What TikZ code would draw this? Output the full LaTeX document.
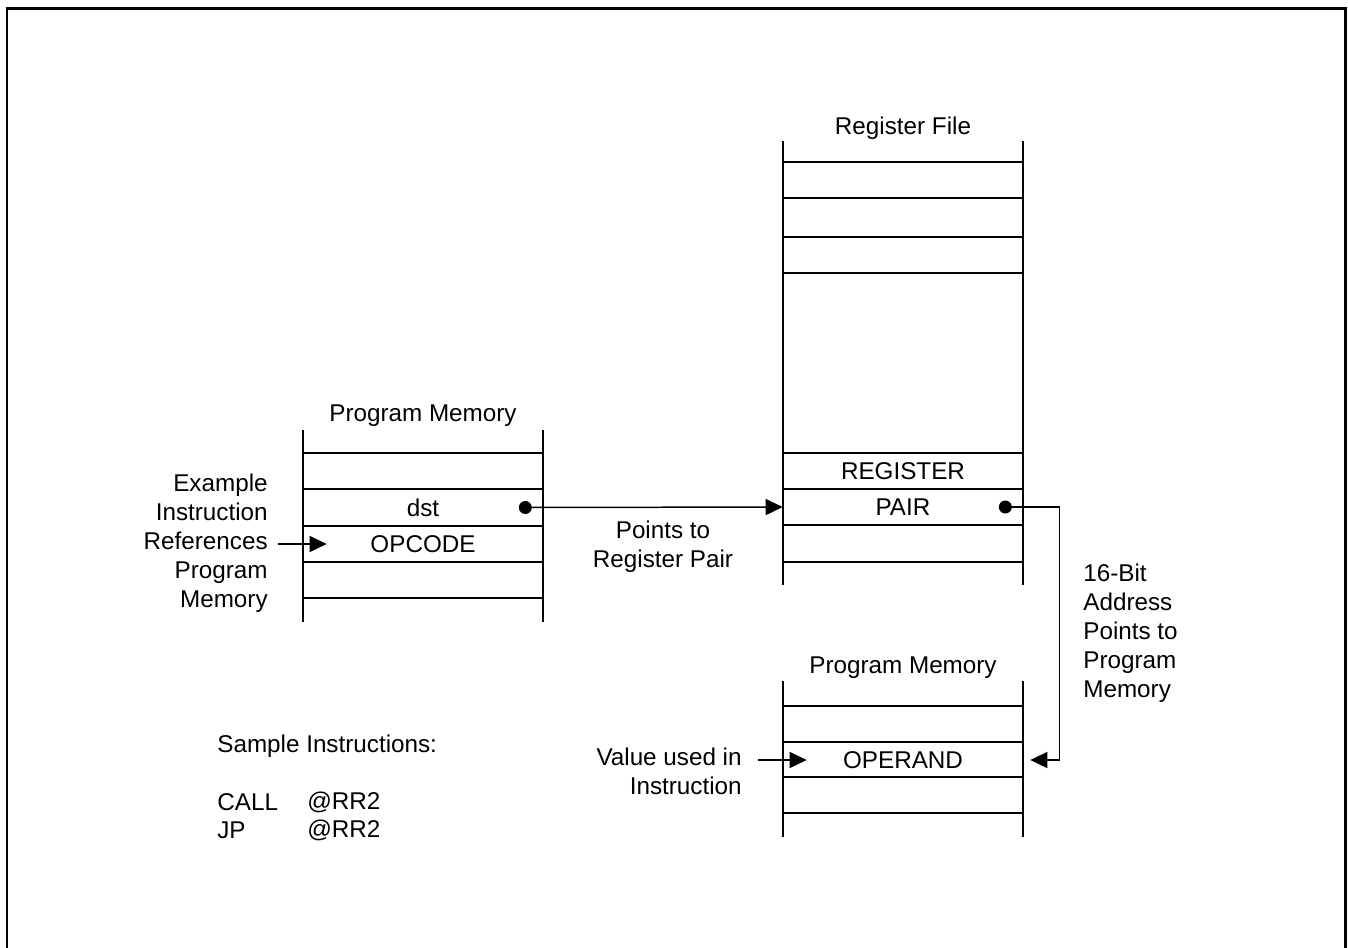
\documentclass[tikz,border=0pt]{standalone}
\usepackage{fontspec}
\setmainfont{Liberation Sans}
\usetikzlibrary{arrows.meta}

\begin{document}
\begin{tikzpicture}[x=0.02cm, y=-0.02cm,
    font=\fontsize{13.8}{16.5}\selectfont,
    mem/.style={line width=0.85pt},
    cell/.style={minimum width=4.8cm, minimum height=0.72cm, inner sep=0pt},
    arr/.style={line width=0.85pt, -{Triangle[length=0.34cm, width=0.32cm]}},
    dot/.style={circle, fill, inner sep=0pt, minimum size=0.26cm}]
  \useasboundingbox (0,0) rectangle (1348,947);
  % 外框
  \draw[line width=0.06cm] (7,950) -- (7,8) -- (1345,8) -- (1345,950);
  % 左边 Program Memory
  \node (pm1) at (423,416) {Program Memory};
  \draw[mem] (303,430) -- (303,622) (543,430) -- (543,622);
  \foreach \y in {453,489,526,562,598}
    \draw[mem] (303,\y) -- (543,\y);
  \node[cell] (dst) at (423,507.5) {dst};
  \node[cell] (opcode) at (423,544) {OPCODE};
  \node[dot] (dstdot) at ([xshift=-0.36cm]dst.east) {};
  % Register File
  \node (rf) at (903,128) {Register File};
  \draw[mem] (783,141) -- (783,585) (1023,141) -- (1023,585);
  \foreach \y in {162,198,237,273,453,489,525,562}
    \draw[mem] (783,\y) -- (1023,\y);
  \node[cell] (reg) at (903,471) {REGISTER};
  \node[cell] (pair) at (903,507) {PAIR};
  \node[dot] (pairdot) at ([xshift=-0.36cm]pair.east) {};
  % 下边 Program Memory
  \node (pm2) at (903,668) {Program Memory};
  \draw[mem] (783,681) -- (783,837) (1023,681) -- (1023,837);
  \foreach \y in {706,742,777,813}
    \draw[mem] (783,\y) -- (1023,\y);
  \node[cell] (opd) at (903,760) {OPERAND};
  % dst 指向寄存器对
  \draw[arr] (dstdot.center) -- (pair.west);
  \node[align=center] (pts) at (663,547) {Points to\\Register Pair};
  % 寄存器对指向程序存储器
  \draw[arr] (pairdot.center) -- ++(1.08cm,0) |- ([xshift=0.14cm]opd.east);
  \node[align=left, anchor=west, inner sep=0pt] (bit) at (1083,633) {16-Bit\\Address\\Points to\\Program\\Memory};
  % 左边说明
  \node[align=right, anchor=east, inner sep=0pt] (ex) at (268,543) {Example\\Instruction\\References\\Program\\Memory};
  \draw[arr] ([xshift=0.2cm]ex.east |- opcode.west) -- ([xshift=0.48cm]opcode.west);
  \node[align=right, anchor=east, inner sep=0pt] (val) at (742,771.5) {Value used in\\Instruction};
  \draw[arr] ([xshift=0.32cm]val.east |- opd.west) -- ([xshift=0.48cm]opd.west);
  % 指令例子
  \node[anchor=west, inner sep=0pt] (smp) at (217,746) {Sample Instructions:};
  \node[anchor=west, inner sep=0pt] (call) at (217,802) {CALL};
  \node[anchor=west, inner sep=0pt] (jp) at (217,830) {JP};
  \node[anchor=west, inner sep=0pt] (rr1) at (307,802) {@RR2};
  \node[anchor=west, inner sep=0pt] (rr2) at (307,830) {@RR2};
\end{tikzpicture}
\end{document}
